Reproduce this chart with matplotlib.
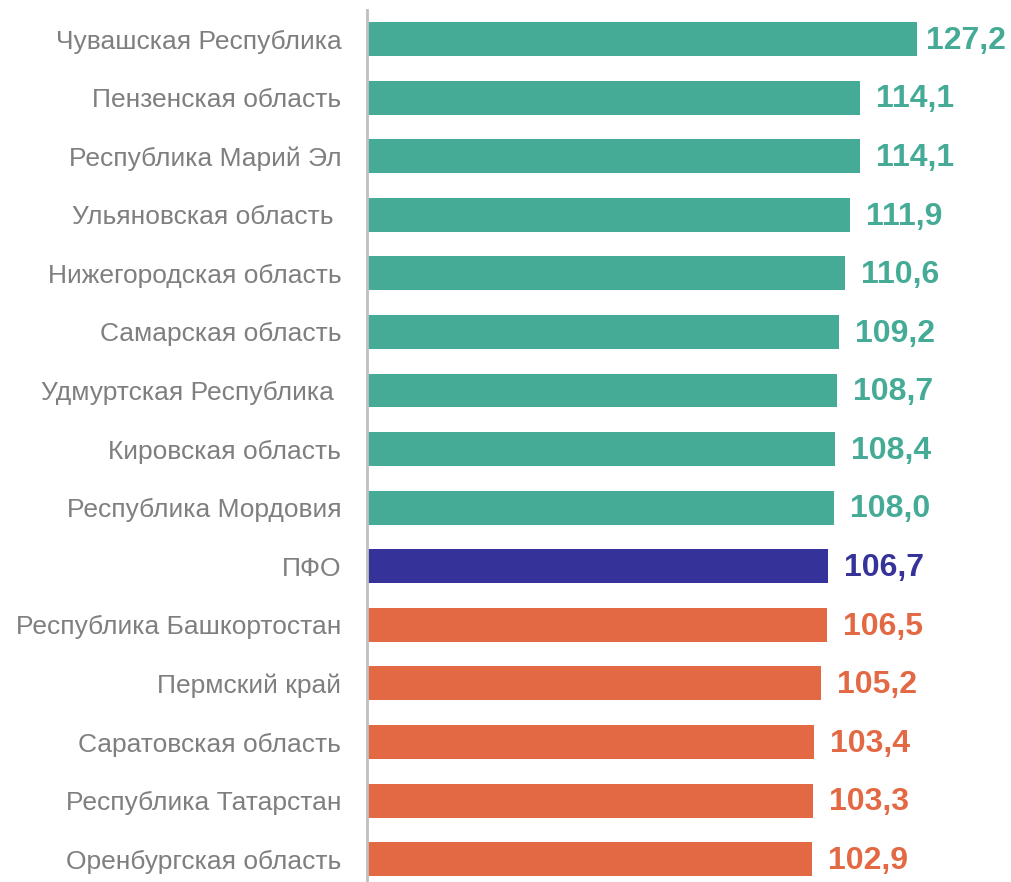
import matplotlib
matplotlib.use("Agg")
import matplotlib.pyplot as plt

regions = ["Чувашская Республика", "Пензенская область", "Республика Марий Эл",
           "Ульяновская область ", "Нижегородская область", "Самарская область",
           "Удмуртская Республика ", "Кировская область", "Республика Мордовия",
           "ПФО", "Республика Башкортостан", "Пермский край", "Саратовская область",
           "Республика Татарстан", "Оренбургская область"]
values = [127.2, 114.1, 114.1, 111.9, 110.6, 109.2, 108.7, 108.4, 108.0,
          106.7, 106.5, 105.2, 103.4, 103.3, 102.9]
groups = ["up"] * 9 + ["pfo"] + ["down"] * 5
palette = {"up": "#45AB96", "pfo": "#353299", "down": "#E36945"}

plt.rcParams['font.family'] = ['Liberation Sans', 'DejaVu Sans']

fig = plt.figure(figsize=(10.12, 8.82), dpi=100)
W, H = 1012, 882
ax = fig.add_axes([367 / W, 0, (W - 367) / W, 872 / H])

ypos = list(range(len(values)))
colors = [palette[g] for g in groups]
ax.barh(ypos, values, height=0.58, color=colors)
ax.set_ylim(14.39, -0.495)
ax.set_xlim(0, (W - 367) / 4.32)

texts = []
for y, v, c in zip(ypos, values, colors):
    t = ax.text(v + 3.7, y + 0.03, f"{v:.1f}".replace(".", ","), color=c, fontsize=23,
                fontweight="bold", va="center", ha="left")
    texts.append(t)

ax.set_yticks(ypos)
ax.set_yticklabels(regions, fontsize=19, color="#7f7f7f")
ax.tick_params(axis="y", length=0, pad=18.5)
ax.set_xticks([])
for s in ["top", "right", "bottom"]:
    ax.spines[s].set_visible(False)
ax.spines["left"].set_color("#bfbfbf")
ax.spines["left"].set_linewidth(2)

# keep value labels inside the figure (shift left if they overflow)
fig.canvas.draw()
r = fig.canvas.get_renderer()
for t in texts:
    bb = t.get_window_extent(renderer=r)
    limit = W - 6
    if bb.x1 > limit:
        dx = (bb.x1 - limit) / 4.32
        x, y = t.get_position()
        t.set_position((x - dx, y))

fig.savefig("out.png", dpi=100)
